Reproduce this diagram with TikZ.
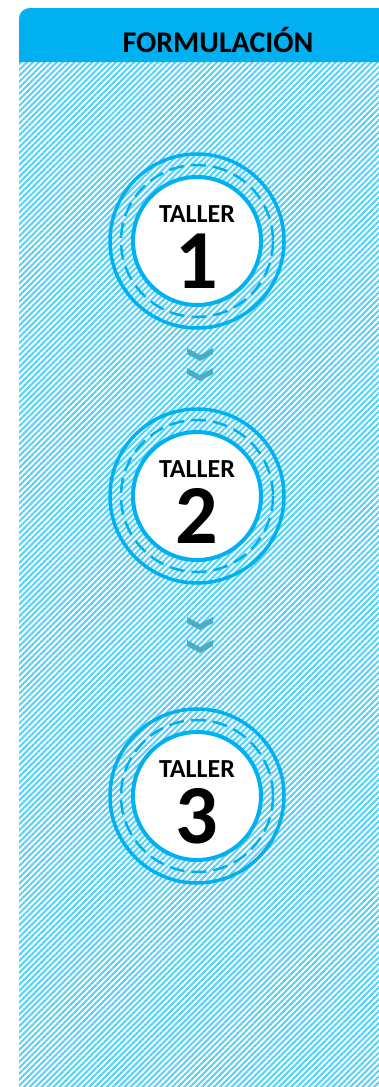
\documentclass[tikz,border=0pt]{standalone}
\usepackage{fontspec}
\setmainfont{Carlito}
\usetikzlibrary{patterns.meta,calc}
\definecolor{hdr}{RGB}{0,176,240}
\definecolor{hatch}{RGB}{90,210,245}
\definecolor{chev}{RGB}{75,172,198}
\tikzset{
  taller/.style={circle, draw=hdr, line width=4pt, fill=white, minimum size=128pt, inner sep=0pt},
  ringsolid/.style={draw=hdr, line width=3.5pt},
  ringdash/.style={draw=hdr, line width=2.5pt, dash pattern=on 15pt off 7pt},
  chevshape/.style={fill=chev},
  lbl/.style={font=\bfseries\fontsize{26}{26}\selectfont, anchor=base, inner sep=0pt},
  num/.style={font=\bfseries\fontsize{84}{84}\selectfont, anchor=base, inner sep=0pt},
}
\newcommand{\chevat}[1]{\fill[chevshape] ($(#1)+(-13,0)$) -- ++(13,7) -- ++(13,-7) -- ++(0,6) -- ++(-13,7) -- ++(-13,-7) -- cycle;}
\begin{document}
\begin{tikzpicture}[x=1pt,y=-1pt]
\useasboundingbox (0,0) rectangle (379,1087);
% panel
\fill[pattern={Lines[angle=45,distance=4.2pt,line width=2.1pt]}, pattern color=hatch] (19,62) rectangle (379,1086);
\fill[hdr] (19,62) -- (19,18) .. controls (19,12.5) and (24.5,8) .. (30,8) -- (379,8) -- (379,62) -- cycle;
\node[font=\bfseries\fontsize{30}{30}\selectfont, anchor=base, inner sep=0pt] (title) at (218,52) {FORMULACIÓN};
% circles
\foreach \i/\y in {1/241,2/496,3/796}{
  \draw[ringsolid] (197,\y) circle (87);
  \draw[ringdash] (197,\y) circle (76);
  \node[taller] (c\i) at (197,\y) {};
  \node[lbl] (t\i) at (197,\y-19) {TALLER};
  \node[num] (n\i) at (197,\y+47) {\i};
}
% chevrons
\coordinate (k1) at (200,348);
\coordinate (k2) at (200,368);
\coordinate (k3) at (200,617);
\coordinate (k4) at (200,640);
\chevat{k1}\chevat{k2}\chevat{k3}\chevat{k4}
\end{tikzpicture}
\end{document}
